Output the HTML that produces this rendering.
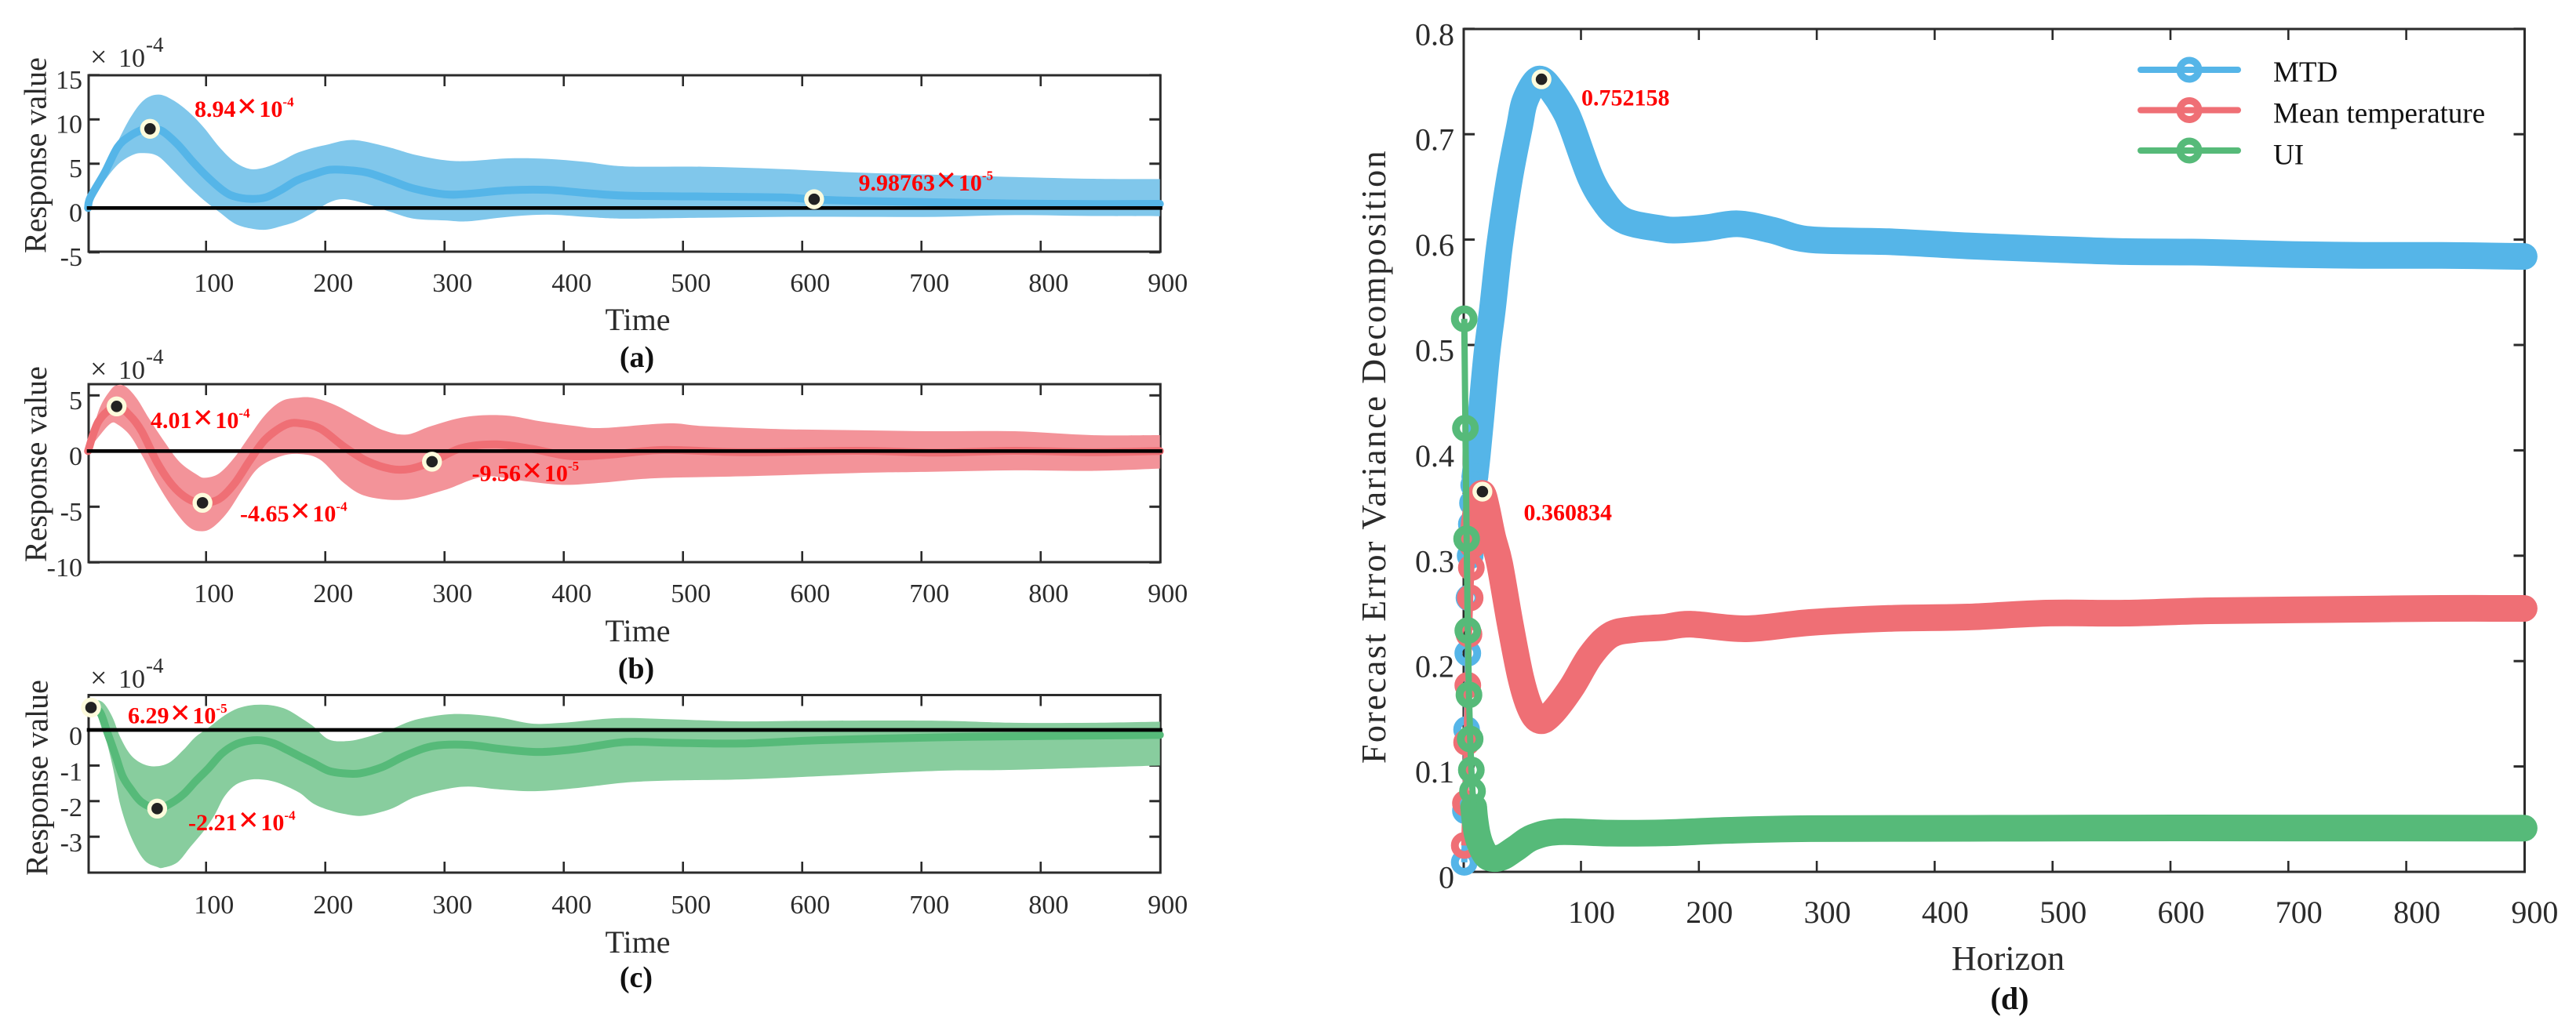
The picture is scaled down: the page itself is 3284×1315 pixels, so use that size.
<!DOCTYPE html>
<html lang="en">
<head>
<meta charset="utf-8">
<title>Impulse response and variance decomposition</title>
<style>
html,body{margin:0;padding:0;background:#fff;}
svg{display:block;font-family:"Liberation Serif","DejaVu Serif",serif;}
.t37{font-size:37px;fill:#111;}
.cap{font-weight:bold;fill:#111;text-anchor:middle;}
.ann{font-size:30px;font-weight:bold;fill:#fe0000;}
.ann .x{font-size:46px;}
.ann .s{font-size:17px;}
</style>
</head>
<body>
<svg id="chart" xmlns="http://www.w3.org/2000/svg" width="3284" height="1315" viewBox="0 0 3284 1315">
  <rect x="0" y="0" width="3284" height="1315" fill="#ffffff"/>
  <g id="marks"></g>

  <g>
    <text font-size="40" fill="#2b2b2b" transform="translate(58.5 323) rotate(-90)">Response value</text>
    <text font-size="40" fill="#2b2b2b" x="813" y="421" text-anchor="middle">Time</text>
    <text class="cap" font-size="38" x="812" y="468">(a)</text>
    <text fill="#2b2b2b"><tspan x="115" y="85" font-size="38">×</tspan><tspan x="151" y="85" font-size="34">10</tspan><tspan x="186" y="66" font-size="27">-4</tspan></text>
    <text class="ann" x="248" y="149">8.94<tspan class="x" dx="1.2" dy="1.5">×</tspan><tspan dx="2.5" dy="-1.5">10</tspan><tspan class="s" dy="-13.5">-4</tspan></text>
    <text class="ann" x="1094.5" y="243">9.98763<tspan class="x" dx="1.2" dy="1.5">×</tspan><tspan dx="2.5" dy="-1.5">10</tspan><tspan class="s" dy="-13.5">-5</tspan></text>
  </g>

  <g>
    <text font-size="40" fill="#2b2b2b" transform="translate(59 717) rotate(-90)">Response value</text>
    <text font-size="40" fill="#2b2b2b" x="813" y="818" text-anchor="middle">Time</text>
    <text class="cap" font-size="38" x="811" y="865">(b)</text>
    <text fill="#2b2b2b"><tspan x="115" y="483" font-size="38">×</tspan><tspan x="151" y="483" font-size="34">10</tspan><tspan x="186" y="464" font-size="27">-4</tspan></text>
    <text class="ann" x="192" y="546">4.01<tspan class="x" dx="1.2" dy="1.5">×</tspan><tspan dx="2.5" dy="-1.5">10</tspan><tspan class="s" dy="-13.5">-4</tspan></text>
    <text class="ann" x="306" y="665">-4.65<tspan class="x" dx="1.2" dy="1.5">×</tspan><tspan dx="2.5" dy="-1.5">10</tspan><tspan class="s" dy="-13.5">-4</tspan></text>
    <text class="ann" x="601.5" y="613.5">-9.56<tspan class="x" dx="1.2" dy="1.5">×</tspan><tspan dx="2.5" dy="-1.5">10</tspan><tspan class="s" dy="-13.5">-5</tspan></text>
  </g>

  <g>
    <text font-size="40" fill="#2b2b2b" transform="translate(60.5 1117) rotate(-90)">Response value</text>
    <text font-size="40" fill="#2b2b2b" x="813" y="1215" text-anchor="middle">Time</text>
    <text class="cap" font-size="38" x="811" y="1259">(c)</text>
    <text fill="#2b2b2b"><tspan x="115" y="877" font-size="38">×</tspan><tspan x="151" y="877" font-size="34">10</tspan><tspan x="186" y="858" font-size="27">-4</tspan></text>
    <text class="ann" x="163" y="922.5">6.29<tspan class="x" dx="1.2" dy="1.5">×</tspan><tspan dx="2.5" dy="-1.5">10</tspan><tspan class="s" dy="-13.5">-5</tspan></text>
    <text class="ann" x="240" y="1059">-2.21<tspan class="x" dx="1.2" dy="1.5">×</tspan><tspan dx="2.5" dy="-1.5">10</tspan><tspan class="s" dy="-13.5">-4</tspan></text>
  </g>

  <g>
    <text font-size="44" letter-spacing="2.35" fill="#2b2b2b" transform="translate(1766 974) rotate(-90)">Forecast Error Variance Decomposition</text>
    <text font-size="44" fill="#2b2b2b" x="2560" y="1237" text-anchor="middle">Horizon</text>
    <text class="cap" font-size="40" x="2562" y="1287">(d)</text>
    <text class="ann" x="2016" y="134.5">0.752158</text>
    <text class="ann" x="1942.5" y="663.5">0.360834</text>
  </g>

  <g>
    <g>
      <line x1="2729" x2="2853" y1="89" y2="89" stroke="#55b5e8" stroke-width="8" stroke-linecap="round"/>
      <circle cx="2791" cy="89" r="12" fill="none" stroke="#55b5e8" stroke-width="9"/>
      <text class="t37" x="2898" y="104">MTD</text>
    </g>
    <g>
      <line x1="2729" x2="2853" y1="140.5" y2="140.5" stroke="#ef6f75" stroke-width="8" stroke-linecap="round"/>
      <circle cx="2791" cy="140.5" r="12" fill="none" stroke="#ef6f75" stroke-width="9"/>
      <text class="t37" x="2898" y="156.5">Mean temperature</text>
    </g>
    <g>
      <line x1="2729" x2="2853" y1="192" y2="192" stroke="#56ba79" stroke-width="8" stroke-linecap="round"/>
      <circle cx="2791" cy="192" r="12" fill="none" stroke="#56ba79" stroke-width="9"/>
      <text class="t37" x="2898" y="209.5">UI</text>
    </g>
  </g>
</svg>

<script>
// ---------- shared tick values ----------
const timeTicks = [100, 200, 300, 400, 500, 600, 700, 800, 900];
const yTicksA = [15, 10, 5, 0, -5];
const yTicksB = [5, 0, -5, -10];
const yTicksC = [0, -1, -2, -3];
const yTicksD = [0, 0.1, 0.2, 0.3, 0.4, 0.5, 0.6, 0.7, 0.8];

// ---------- panel (a), MTD response, x 10^-4 ----------
const aLineT = [1,3,15,26,37,48,53,63,76,89,102,115,124,137,150,163,176,190,203,216,235,255,274,300,320,353,386,418,451,516,582,610,647,712,778,843,900];
const aLineV = [0,1.2,4,6.9,8.2,8.9,8.94,8.7,7.2,5.2,3.4,1.9,1.3,1.03,1.2,2.05,3.1,3.8,4.3,4.3,4,3.1,2.2,1.55,1.6,2,2.05,1.7,1.4,1.3,1.2,0.97,0.8,0.65,0.5,0.45,0.47];
const aUpperT = [1,3,15,26,37,48,60,72,85,98,111,124,137,150,163,176,190,203,216,229,255,274,300,320,353,386,418,451,516,582,647,712,778,843,900];
const aUpperV = [0,1.6,4.3,7.5,10.3,12.2,12.8,12.2,10.9,9.1,6.9,5.2,4.4,4.6,5.3,6.2,6.8,7.2,7.6,7.6,6.8,6.05,5.4,5.3,5.6,5.55,5.2,4.7,4.66,4.4,4,3.75,3.5,3.3,3.27];
const aLowerT = [1,3,15,26,37,46,59,72,85,98,111,124,137,150,163,176,190,203,216,235,255,274,300,320,353,386,418,451,516,582,647,712,778,843,900];
const aLowerV = [0,0.8,3.1,4.9,5.9,6.2,5.9,4.3,2.5,0.9,-0.45,-1.75,-2.3,-2.45,-2.05,-1.5,-0.5,0.6,1,0.45,-0.45,-1.2,-1.4,-1.5,-1,-0.75,-1,-1.2,-1.1,-1,-1,-1,-0.8,-0.9,-0.92];
const aPeakT = [53, 610];
const aPeakV = [8.94, 0.99];

// ---------- panel (b), mean temperature response, x 10^-4 ----------
const bLineT = [1,10,25,36,46,59,72,85,97,111,124,137,150,167,180,196,216,235,255,271,290,314,343,373,405,438,484,549,647,712,778,843,900];
const bLineV = [0,2.7,4.01,3.2,1.78,-1.03,-3.1,-4.3,-4.65,-4.3,-2.9,-0.8,1.08,2.37,2.48,2,0.37,-0.9,-1.6,-1.6,-0.94,0.26,0.6,0.2,-0.45,-0.33,0.1,-0.1,0.02,-0.14,0.02,-0.1,0];
const bUpperT = [1,10,20,26,33,42,52,65,78,92,99,111,124,137,150,163,176,190,209,229,248,268,289,318,351,380,410,432,487,516,582,647,712,778,843,900];
const bUpperV = [0,3.65,5.5,5.93,5.76,4.7,2.95,0.85,-1,-2.1,-2.4,-2,-0.55,1.43,3.3,4.47,4.78,4.78,4.1,2.95,1.9,1.48,2.25,3.07,3.2,2.68,2.25,2.07,2.49,2.25,1.97,1.87,1.78,1.78,1.43,1.43];
const bLowerT = [1,10,20,26,36,46,59,72,85,95,105,118,131,144,163,180,196,216,235,267,300,333,366,399,432,476,549,647,712,778,843,900];
const bLowerV = [0,1.3,2.48,2.37,1.43,-0.33,-2.9,-5.1,-6.77,-7.2,-6.9,-5.5,-3.37,-1.5,-0.45,-0.28,-0.8,-2.9,-4.07,-4.37,-3.5,-2.3,-2.68,-3.03,-2.84,-2.44,-2.27,-1.97,-1.85,-1.73,-1.78,-1.57];
const bPeakT = [25, 97, 289.5];
const bPeakV = [4.01, -4.65, -0.956];

// ---------- panel (c), UI response, x 10^-4 ----------
const cLineT = [3.5,11,17,24,30,37,46,59,70,81,91,102,113,124,135,146,157,168,179,190,203,216,229,248,268,291,320,346,379,412,451,490,549,614,712,778,900];
const cLineV = [0.629,0.5,-0.05,-0.71,-1.3,-1.67,-2.03,-2.21,-2.07,-1.81,-1.45,-1.08,-0.67,-0.42,-0.31,-0.29,-0.38,-0.56,-0.75,-0.93,-1.15,-1.22,-1.22,-1.04,-0.71,-0.45,-0.42,-0.53,-0.62,-0.53,-0.34,-0.36,-0.38,-0.29,-0.21,-0.18,-0.14];
const cUpperT = [3.5,9,15,22,28,37,48,59,70,81,91,102,113,124,135,146,157,168,179,190,203,219,235,255,275,300,320,346,373,399,444,490,549,614,712,778,843,900];
const cUpperV = [0.7,0.83,0.72,0.32,-0.2,-0.71,-0.97,-1.02,-0.9,-0.56,-0.2,0.06,0.35,0.57,0.68,0.71,0.68,0.57,0.35,0.1,-0.27,-0.31,-0.2,0.02,0.28,0.43,0.44,0.35,0.18,0.2,0.33,0.3,0.24,0.26,0.26,0.2,0.2,0.23];
const cLowerT = [3.5,9,15,22,28,37,48,59,64,76,87,98,107,115,124,135,146,157,168,179,190,203,216,232,255,275,300,320,346,376,412,451,490,549,614,712,778,900];
const cLowerV = [0.55,0.5,-0.12,-1.08,-2.1,-3,-3.65,-3.85,-3.87,-3.72,-3.28,-2.84,-2.4,-1.89,-1.56,-1.41,-1.39,-1.45,-1.59,-1.78,-2.07,-2.25,-2.36,-2.41,-2.22,-1.89,-1.67,-1.59,-1.67,-1.72,-1.63,-1.48,-1.42,-1.39,-1.3,-1.15,-1.12,-1];
const cPeakT = [3.5, 59];
const cPeakV = [0.629, -2.21];

// ---------- panel (d), forecast error variance decomposition ----------
const mtdT = [1,2,3,4,5,6,7,8,9,10,12,15,20,25,31,39.5,48,52,60,66.5,75,85,92,108,121,132,145,168,179,205,233,262,294,361,428,495,562,629,696,763,830,900];
const mtdV = [0.009,0.058,0.135,0.2075,0.26,0.3,0.33,0.35,0.367,0.375,0.395,0.43,0.49,0.535,0.595,0.6587,0.708,0.73,0.748,0.752,0.742,0.725,0.708,0.659,0.634,0.621,0.6148,0.6103,0.609,0.611,0.615,0.609,0.6,0.598,0.594,0.591,0.5886,0.588,0.586,0.585,0.585,0.584];
const tempT = [1,2,3,4,5,6,7,8,10,13,16.4,20,25,31,40,49,57,65,75,92,108,125,145,170,193,240,294,361,428,495,562,629,696,763,830,900];
const tempV = [0.025,0.065,0.1228,0.177,0.2255,0.26,0.2887,0.31,0.335,0.352,0.359,0.345,0.318,0.2924,0.235,0.1838,0.155,0.1436,0.15,0.175,0.205,0.2247,0.23,0.232,0.235,0.2307,0.2366,0.2405,0.2418,0.2455,0.2455,0.2477,0.2485,0.2493,0.25,0.25];
const uiT = [1,2,3,4,5,6,7,8,9,10,12,15,20,25,30,35,45,59,81,125,170,226,294,428,562,700,900];
const uiV = [0.5248,0.421,0.316,0.229,0.168,0.126,0.0967,0.0766,0.0614,0.05,0.036,0.025,0.015,0.0127,0.013,0.015,0.0225,0.0327,0.038,0.0367,0.037,0.0394,0.041,0.0413,0.0416,0.0416,0.0415];
const dPeakT = [66.5, 16.4];
const dPeakV = [0.752158, 0.360834];

// ---------- helpers ----------
const NS = 'http://www.w3.org/2000/svg';
const root = document.getElementById('marks');

function mk(tag, attrs, parent) {
  const el = document.createElementNS(NS, tag);
  for (const k in attrs) el.setAttribute(k, attrs[k]);
  (parent || root).appendChild(el);
  return el;
}

function segs(p) {
  let d = '';
  for (let i = 0; i < p.length - 1; i++) {
    const p0 = p[Math.max(i - 1, 0)], p1 = p[i], p2 = p[i + 1], p3 = p[Math.min(i + 2, p.length - 1)];
    const c1x = p1[0] + (p2[0] - p0[0]) / 6, c1y = p1[1] + (p2[1] - p0[1]) / 6;
    const c2x = p2[0] - (p3[0] - p1[0]) / 6, c2y = p2[1] - (p3[1] - p1[1]) / 6;
    d += 'C' + c1x.toFixed(2) + ' ' + c1y.toFixed(2) + ' ' + c2x.toFixed(2) + ' ' + c2y.toFixed(2) + ' ' + p2[0].toFixed(2) + ' ' + p2[1].toFixed(2);
  }
  return d;
}

function smoothPath(p) {
  return 'M' + p[0][0].toFixed(2) + ' ' + p[0][1].toFixed(2) + segs(p);
}

function toPts(ts, vs, ax) {
  return ts.map((t, i) => [ax.x(t), ax.y(vs[i])]);
}

function makeAxis(o) {
  return Object.assign({ x: t => o.x0 + o.kx * t, y: v => o.y0 - o.ky * v }, o);
}

const axisA = makeAxis({ id: 'a', x0: 110.7, kx: 1.52, y0: 265.3, ky: 11.3, left: 113, right: 1479.3, top: 96, bottom: 321, labelDy: 17, labelRight: 105, xBase: 372, fs: 34, xDx: 10 });
const axisB = makeAxis({ id: 'b', x0: 110.7, kx: 1.52, y0: 575.3, ky: 14.2, left: 113, right: 1479.3, top: 490, bottom: 717, labelDy: 17.5, labelRight: 105, xBase: 768, fs: 34, xDx: 10 });
const axisC = makeAxis({ id: 'c', x0: 110.7, kx: 1.52, y0: 931, ky: 45.4, left: 113, right: 1479.3, top: 886.5, bottom: 1113, labelDy: 19, labelRight: 105, xBase: 1165, fs: 34, xDx: 10 });
const axisD = makeAxis({ id: 'd', x0: 1865.2, kx: 1.503, y0: 1112, ky: 1344, left: 1866, right: 3218.5, top: 37, bottom: 1112, labelDy: 20.5, labelRight: 1854, xBase: 1177, fs: 40, xDx: 13.5 });

function drawFrame(ax, yTicks) {
  const g = mk('g', {});
  
  
  const box = mk('rect', { x: ax.left, y: ax.top, width: ax.right - ax.left, height: ax.bottom - ax.top, fill: 'none', stroke: '#2b2b2b', 'stroke-width': 3 }, g);
  
  
  const len = 14;
  timeTicks.forEach(v => {
    const px = ax.x(v);
    if (v < 900) {
      const t1 = mk('line', { x1: px, x2: px, y1: ax.bottom, y2: ax.bottom - len, stroke: '#2b2b2b', 'stroke-width': 2.6 }, g);
      
      
      const t2 = mk('line', { x1: px, x2: px, y1: ax.top, y2: ax.top + len, stroke: '#2b2b2b', 'stroke-width': 2.6 }, g);
      
      
    }
    const lb = mk('text', { x: px + ax.xDx, y: ax.xBase, 'text-anchor': 'middle', 'font-size': ax.fs, fill: '#2b2b2b' }, g);
    lb.textContent = String(v);
    
    
  });
  yTicks.forEach(v => {
    const py = ax.y(v);
    const t1 = mk('line', { x1: ax.left, x2: ax.left + len, y1: py, y2: py, stroke: '#2b2b2b', 'stroke-width': 3 }, g);
    
    
    const t2 = mk('line', { x1: ax.right, x2: ax.right - len, y1: py, y2: py, stroke: '#2b2b2b', 'stroke-width': 3 }, g);
    
    
    const lb = mk('text', { x: ax.labelRight, y: py + ax.labelDy, 'text-anchor': 'end', 'font-size': ax.fs, fill: '#2b2b2b' }, g);
    lb.textContent = String(v);
    
    
  });
}

function drawPeaks(ax, ts, vs) {
  ts.forEach((t, i) => {
    const ring = mk('circle', { cx: ax.x(t), cy: ax.y(vs[i]), r: 12.7, fill: '#fdfbdc' });
    
    
    const dot = mk('circle', { cx: ax.x(t), cy: ax.y(vs[i]), r: 7.3, fill: '#222222' });
    
    
  });
}

function drawResponse(ax, yTicks, lineT, lineV, upT, upV, loT, loV, peakT, peakV, bandColor, lineColor) {
  drawFrame(ax, yTicks);
  const up = toPts(upT, upV, ax);
  const lo = toPts(loT, loV, ax).reverse();
  const d = smoothPath(up) + 'L' + lo[0][0].toFixed(2) + ' ' + lo[0][1].toFixed(2) + segs(lo) + 'Z';
  const band = mk('path', { d: d, fill: bandColor });
  
  
  const line = mk('path', { d: smoothPath(toPts(lineT, lineV, ax)), fill: 'none', stroke: lineColor, 'stroke-width': 10, 'stroke-linecap': 'round', 'stroke-linejoin': 'round' });
  
  
  const zero = mk('line', { x1: ax.x(0), x2: ax.right + 2.5, y1: ax.y(0), y2: ax.y(0), stroke: '#000000', 'stroke-width': 4.7 });
  
  
  drawPeaks(ax, peakT, peakV);
}

function drawFevd(name, ts, vs, color, ringUntil, bandFrom) {
  const ax = axisD;
  const g = mk('g', {});
  
  
  const all = toPts(ts, vs, ax);
  const thick = all.filter((p, i) => ts[i] >= bandFrom);
  const early = all.filter((p, i) => ts[i] <= bandFrom);
  const band = mk('path', { d: smoothPath(thick), fill: 'none', stroke: color, 'stroke-width': 34, 'stroke-linecap': 'round', 'stroke-linejoin': 'round' }, g);
  
  
  ts.forEach((t, i) => {
    if (t > ringUntil) return;
    const c = mk('circle', { cx: ax.x(t), cy: ax.y(vs[i]), r: 12, fill: 'none', stroke: color, 'stroke-width': 10 }, g);
    
    
  });
  const thin = mk('polyline', { points: early.map(p => p[0].toFixed(2) + ',' + p[1].toFixed(2)).join(' '), fill: 'none', stroke: color, 'stroke-width': 8, 'stroke-linejoin': 'round' }, g);
  
  
}

drawResponse(axisA, yTicksA, aLineT, aLineV, aUpperT, aUpperV, aLowerT, aLowerV, aPeakT, aPeakV, '#80c7eb', '#55b5e8');
drawResponse(axisB, yTicksB, bLineT, bLineV, bUpperT, bUpperV, bLowerT, bLowerV, bPeakT, bPeakV, '#f39399', '#ef6f75');
drawResponse(axisC, yTicksC, cLineT, cLineV, cUpperT, cUpperV, cLowerT, cLowerV, cPeakT, cPeakV, '#88cd9e', '#56ba79');

drawFrame(axisD, yTicksD);
drawFevd('mtd', mtdT, mtdV, '#55b5e8', 10, 10);
drawFevd('mean-temperature', tempT, tempV, '#ef6f75', 7, 8);
drawFevd('ui', uiT, uiV, '#56ba79', 9, 9);
drawPeaks(axisD, dPeakT, dPeakV);
</script>
</body>
</html>
